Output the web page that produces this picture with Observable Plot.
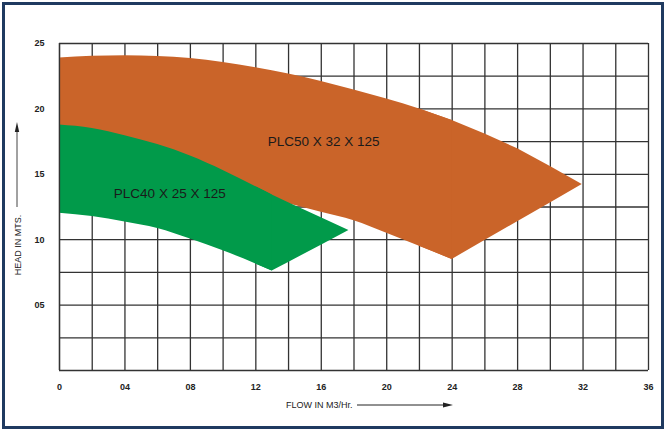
<!DOCTYPE html>
<html>
<head>
<meta charset="utf-8">
<script src="https://cdn.jsdelivr.net/npm/d3@7"></script>
<script src="https://cdn.jsdelivr.net/npm/@observablehq/plot@0.6"></script>
<style>
  html, body { margin: 0; padding: 0; background: #ffffff; }
  #wrap { position: relative; width: 665px; height: 430px; overflow: hidden; }
  #chart svg { display: block; }
  #overlay { position: absolute; left: 0; top: 0; pointer-events: none; }
</style>
</head>
<body>
<div id="wrap">
  <div id="chart"></div>
  <svg id="overlay" width="665" height="430" xmlns="http://www.w3.org/2000/svg">
    <rect x="3.5" y="3.5" width="659" height="424" fill="none" stroke="#1f3a60" stroke-width="3"/>
    <text x="286" y="408" font-family="Liberation Sans, Arial, sans-serif" font-size="9" fill="#222">FLOW IN M3/Hr.</text>
    <line x1="357" y1="405" x2="444" y2="405" stroke="#222" stroke-width="1"/>
    <path d="M453,405 L443,402.6 L443,407.4 Z" fill="#222"/>
    <text transform="translate(21,245) rotate(-90)" text-anchor="middle" font-family="Liberation Sans, Arial, sans-serif" font-size="9" fill="#222">HEAD IN MTS.</text>
    <line x1="17" y1="207" x2="17" y2="131" stroke="#444" stroke-width="1"/>
    <path d="M17,122 L14.8,132 L19.2,132 Z" fill="#222"/>
  </svg>
</div>
<script>
// ---- data ----
// PLC50 X 32 X 125 (orange band)
const flow50 = [0, 2, 4, 6, 8, 10, 12, 14, 16, 18, 20, 22, 24, 26, 28, 30, 31.95];
const head50Upper = [23.9, 24.03, 24.07, 24.0, 23.85, 23.55, 23.15, 22.66, 22.1, 21.45, 20.75, 20.0, 19.11, 18.09, 16.95, 15.6, 14.22];
const head50Lower = [16.0, 15.9, 15.7, 15.4, 15.0, 14.35, 13.45, 12.75, 12.1, 11.45, 10.5, 9.5, 8.49, 9.93, 11.37, 12.81, 14.22];
const knee50 = 24; // flow where the lower edge turns

// PLC40 X 25 X 125 (green band)
const flow40 = [0, 2, 4, 6, 8, 10, 12, 13, 14, 16, 17.69];
const head40Upper = [18.76, 18.5, 17.95, 17.27, 16.4, 15.3, 14.05, 13.42, 12.83, 11.68, 10.7];
const head40Lower = [12.03, 11.77, 11.35, 10.85, 10.05, 9.15, 8.15, 7.6, 8.26, 9.58, 10.7];
const knee40 = 13;

// band labels
const bandNames = ["PLC50 X 32 X 125", "PLC40 X 25 X 125"];
const bandLabelFlow = [16.14, 6.74];
const bandLabelHead = [17.53, 13.51];

// axes
const xTicks = [0, 4, 8, 12, 16, 20, 24, 28, 32, 36];
const yTicks = [5, 10, 15, 20, 25];
const xGrid = [0, 2, 4, 6, 8, 10, 12, 14, 16, 18, 20, 22, 24, 26, 28, 30, 32, 34, 36];
const yGrid = [0, 2.5, 5, 7.5, 10, 12.5, 15, 17.5, 20, 22.5, 25];

// ---- tables built from the arrays ----
const band50 = flow50.map((x, i) => ({x, lo: head50Lower[i], hi: head50Upper[i]}));
const band40 = flow40.map((x, i) => ({x, lo: head40Lower[i], hi: head40Upper[i]}));
const labels = bandNames.map((name, i) => ({name, x: bandLabelFlow[i], y: bandLabelHead[i]}));

const ORANGE = "#ca6429", GREEN = "#019a4a", GRID = "#333";
const fmt = d => d === 0 ? "0" : String(d).padStart(2, "0");

// Smooth part up to the knee, straight part after it (drawn underneath,
// starting one row earlier so the two pieces overlap without a seam).
function bandMarks(rows, knee, color) {
  const k = rows.findIndex(d => d.x === knee);
  const left = rows.slice(0, k + 1);
  const right = rows.slice(k - 1);
  return [
    Plot.areaY(right, {x: "x", y1: "lo", y2: "hi", fill: color, curve: "linear"}),
    Plot.areaY(left, {x: "x", y1: "lo", y2: "hi", fill: color, curve: "monotone-x"})
  ];
}

const chart = Plot.plot({
  width: 665,
  height: 430,
  marginLeft: 59,
  marginRight: 17,
  marginTop: 43,
  marginBottom: 60,
  style: {fontFamily: "Liberation Sans, Arial, sans-serif", background: "transparent", color: "#222"},
  x: {domain: [0, 36]},
  y: {domain: [0, 25]},
  marks: [
    Plot.ruleX(xGrid, {stroke: GRID, strokeWidth: 1.3}),
    Plot.ruleY(yGrid, {stroke: GRID, strokeWidth: 1.3}),
    ...bandMarks(band50, knee50, ORANGE),
    ...bandMarks(band40, knee40, GREEN),
    Plot.ruleX([xGrid[0]], {stroke: GRID, strokeWidth: 1.3}),
    Plot.text(labels, {x: "x", y: "y", text: "name", fontSize: 13.5, fill: "#1a1a1a", fontFamily: "Liberation Sans, Arial, sans-serif"}),
    Plot.axisX({ticks: xTicks, tickSize: 0, tickPadding: 13, tickFormat: fmt, label: null, fontWeight: "bold", fontSize: 9, fill: "#222"}),
    Plot.axisY({ticks: yTicks, tickSize: 0, tickPadding: 15, tickFormat: fmt, label: null, fontWeight: "bold", fontSize: 9, fill: "#222"})
  ]
});
document.getElementById("chart").appendChild(chart);
</script>
</body>
</html>
